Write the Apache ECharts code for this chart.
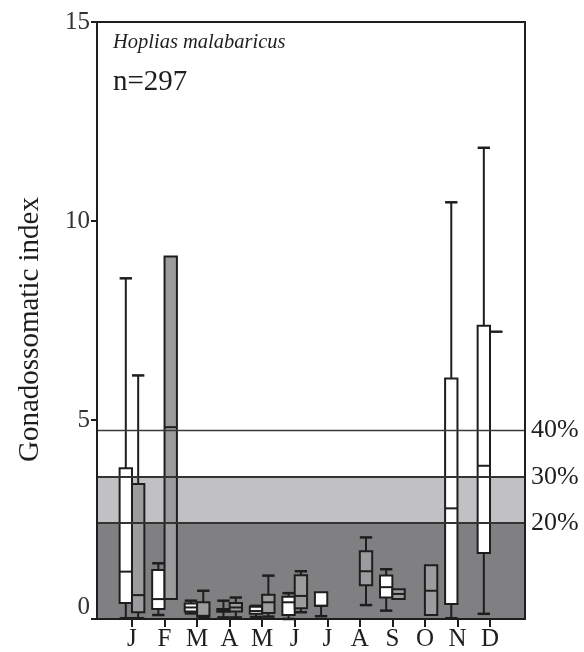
<!DOCTYPE html>
<html><head><meta charset="utf-8">
<script src="https://cdn.jsdelivr.net/npm/echarts@6/dist/echarts.min.js"></script>
<style>html,body{margin:0;padding:0;background:#fff}#c{width:584px;height:652px}</style>
</head><body><div id="c"></div>
<script>
// ---- data ----
const months = ['J','F','M','A','M','J','J','A','S','O','N','D'];
const monthPos = [1,2,3,4,5,6,7,8,9,10,11,12];

// white boxes (null = no box that month)
const whiteMin    = [0.02, 0.10, 0.14, 0.04, 0.05, 0.00, 0.07, null, 0.21, null, 0.02, 0.13];
const whiteQ1     = [0.40, 0.25, 0.19, 0.18, 0.13, 0.10, 0.33, null, 0.54, null, 0.38, 1.66];
const whiteMedian = [1.19, 0.50, 0.29, 0.21, 0.20, 0.42, 0.33, null, 0.80, null, 2.78, 3.85];
const whiteQ3     = [3.79, 1.23, 0.39, 0.25, 0.31, 0.56, 0.67, null, 1.09, null, 6.04, 7.37];
const whiteMax    = [8.56, 1.40, 0.46, 0.46, 0.33, 0.65, 0.67, null, 1.25, null, 10.47, 11.84];

// gray boxes
const grayMin    = [0.02, 0.50, 0.05, 0.04, 0.06, 0.17, null, 0.35, 0.50, 0.10, null, 7.22];
const grayQ1     = [0.17, 0.50, 0.06, 0.19, 0.15, 0.27, null, 0.85, 0.50, 0.10, null, 7.22];
const grayMedian = [0.60, 4.82, 0.08, 0.29, 0.42, 0.58, null, 1.20, 0.63, 0.71, null, 7.22];
const grayQ3     = [3.39, 9.11, 0.42, 0.40, 0.61, 1.10, null, 1.70, 0.75, 1.35, null, 7.22];
const grayMax    = [6.12, 9.11, 0.71, 0.54, 1.09, 1.20, null, 2.05, 0.75, 1.35, null, 7.22];

// background bands / threshold lines
const thresholdValues = [2.41, 3.57, 4.75];
const thresholdLabels = ['20%', '30%', '40%'];

const speciesName = 'Hoplias malabaricus';
const sampleText = 'n=297';
const yAxisName = 'Gonadossomatic index';

// ---- build ----
function buildBoxData(mn, q1, md, q3, mx) {
  const out = [];
  for (let i = 0; i < monthPos.length; i++) {
    if (mn[i] == null) continue;
    out.push([monthPos[i], mn[i], q1[i], md[i], q3[i], mx[i]]);
  }
  return out;
}
const whiteData = buildBoxData(whiteMin, whiteQ1, whiteMedian, whiteQ3, whiteMax);
const grayData = buildBoxData(grayMin, grayQ1, grayMedian, grayQ3, grayMax);

const SERIF = '"Liberation Serif", "DejaVu Serif", serif';
const INK = '#1e1e1e';
const HALF = 0.19;

function boxRenderer(offset, fill) {
  return function (params, api) {
    const x = api.value(0);
    const v = [api.value(1), api.value(2), api.value(3), api.value(4), api.value(5)];
    const unit = api.size([1, 0])[0];
    const cx = api.coord([x, 0])[0] + offset * unit;
    const hw = HALF * unit;
    const y = v.map(val => api.coord([x, val])[1]);
    const ls = { stroke: INK, lineWidth: 2 };
    const capStyle = { stroke: INK, lineWidth: 2.5 };
    const ch = [];
    if (v[4] > v[3]) {
      ch.push({ type: 'line', shape: { x1: cx, y1: y[4], x2: cx, y2: y[3] }, style: ls });
      ch.push({ type: 'line', shape: { x1: cx - hw, y1: y[4], x2: cx + hw, y2: y[4] }, style: capStyle });
    }
    if (v[0] < v[1]) {
      ch.push({ type: 'line', shape: { x1: cx, y1: y[1], x2: cx, y2: y[0] }, style: ls });
      ch.push({ type: 'line', shape: { x1: cx - hw, y1: y[0], x2: cx + hw, y2: y[0] }, style: capStyle });
    }
    ch.push({ type: 'rect', shape: { x: cx - hw, y: y[3], width: 2 * hw, height: y[1] - y[3] },
              style: { fill: fill, stroke: INK, lineWidth: 2 } });
    ch.push({ type: 'line', shape: { x1: cx - hw, y1: y[2], x2: cx + hw, y2: y[2] }, style: ls });
    return { type: 'group', children: ch };
  };
}

const X_MIN = -0.075, X_MAX = 13.075;

const chart = echarts.init(document.getElementById('c'), null, { renderer: 'canvas' });
chart.setOption({
  animation: false,
  backgroundColor: '#fff',
  title: [
    { text: speciesName, left: 108, top: 28,
      textStyle: { fontFamily: SERIF, fontStyle: 'italic', fontWeight: 'normal', fontSize: 20.5, color: INK } },
    { text: sampleText, left: 108, top: 63,
      textStyle: { fontFamily: SERIF, fontWeight: 'normal', fontSize: 29, color: INK } }
  ],
  grid: { left: 97, top: 22, width: 428, height: 598 },
  xAxis: [
    { type: 'value', min: X_MIN, max: X_MAX, position: 'bottom', z: 10,
      axisLine: { show: true, onZero: false, lineStyle: { color: INK, width: 2 } },
      axisTick: { show: true, customValues: monthPos, length: 8, lineStyle: { color: INK, width: 2 } },
      axisLabel: { customValues: monthPos, margin: 8, fontFamily: SERIF, fontSize: 25, color: INK,
                   formatter: v => months[Math.round(v) - 1] },
      splitLine: { show: false } },
    { type: 'value', min: X_MIN, max: X_MAX, position: 'top', z: 10,
      axisLine: { show: true, onZero: false, lineStyle: { color: INK, width: 2 } },
      axisTick: { show: false }, axisLabel: { show: false }, splitLine: { show: false } }
  ],
  yAxis: [
    { type: 'value', min: 0, max: 15, interval: 5, position: 'left', z: 10,
      name: yAxisName, nameLocation: 'middle', nameGap: 52, nameRotate: 90,
      nameTextStyle: { fontFamily: SERIF, fontSize: 29, color: INK, padding: [0, 18, 0, 0] },
      axisLine: { show: true, onZero: false, lineStyle: { color: INK, width: 2 } },
      axisTick: { show: true, length: 6, lineStyle: { color: INK, width: 2 } },
      axisLabel: { margin: 7, fontFamily: SERIF, fontSize: 25, color: '#333',
                   formatter: v => v === 0 ? '{z|0}' : String(v),
                   rich: { z: { fontFamily: SERIF, fontSize: 25, color: '#333', padding: [0, 0, 24, 0] } } },
      splitLine: { show: false } },
    { type: 'value', min: 0, max: 15, interval: 5, position: 'right', z: 10,
      axisLine: { show: true, onZero: false, lineStyle: { color: INK, width: 2 } },
      axisTick: { show: false }, axisLabel: { show: false }, splitLine: { show: false } }
  ],
  series: [
    { type: 'line', name: 'bands', data: [], silent: true, z: 1,
      markArea: { silent: true,
        data: [
          [{ yAxis: 0, itemStyle: { color: '#808082' } }, { yAxis: thresholdValues[0] }],
          [{ yAxis: thresholdValues[0], itemStyle: { color: '#c1c1c3' } }, { yAxis: thresholdValues[1] }]
        ] },
      markLine: { silent: true, symbol: 'none',
        label: { show: true, position: 'end', distance: 6, fontFamily: SERIF, fontSize: 26, color: INK },
        data: thresholdValues.map((v, i) => ({
          yAxis: v,
          label: { formatter: thresholdLabels[i] },
          lineStyle: { color: i === 2 ? '#3a3a3a' : '#333', width: i === 2 ? 1.3 : 1.8, type: 'solid' }
        })) } },
    { type: 'custom', name: 'white', data: whiteData, z: 3,
      encode: { x: 0, y: [1, 2, 3, 4, 5] },
      renderItem: boxRenderer(-HALF, '#ffffff') },
    { type: 'custom', name: 'gray', data: grayData, z: 3,
      encode: { x: 0, y: [1, 2, 3, 4, 5] },
      renderItem: boxRenderer(HALF, '#9c9c9e') }
  ]
});
</script>
</body></html>
